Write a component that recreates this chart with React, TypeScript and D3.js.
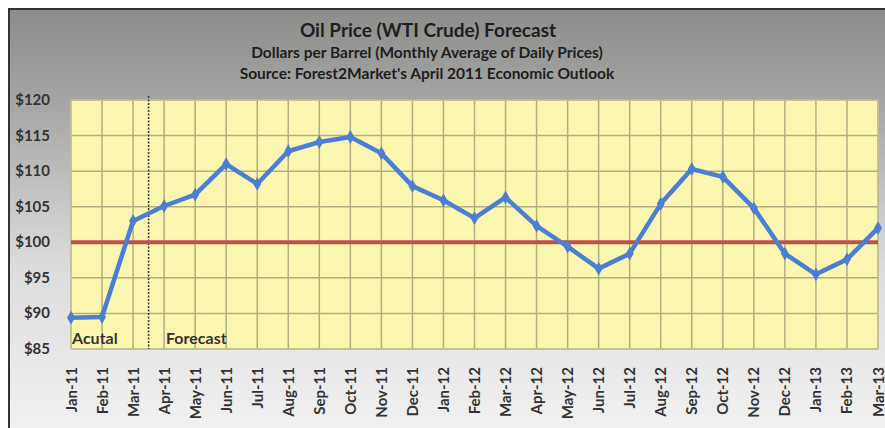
import React from "react";
import * as d3 from "d3";

const months = ["Jan-11","Feb-11","Mar-11","Apr-11","May-11","Jun-11","Jul-11","Aug-11","Sep-11","Oct-11","Nov-11","Dec-11","Jan-12","Feb-12","Mar-12","Apr-12","May-12","Jun-12","Jul-12","Aug-12","Sep-12","Oct-12","Nov-12","Dec-12","Jan-13","Feb-13","Mar-13"];
const prices = [89.4,89.5,103.0,105.1,106.7,111.0,108.2,112.8,114.1,114.8,112.5,107.9,105.9,103.4,106.3,102.3,99.4,96.3,98.4,105.4,110.3,109.2,104.8,98.4,95.5,97.6,102.0];
const yTicks = [85,90,95,100,105,110,115,120];
const referencePrice = 100;
const forecastStart = 2.5; // between Mar-11 and Apr-11
const titleLines = ["Oil Price (WTI Crude) Forecast","Dollars per Barrel (Monthly Average of Daily Prices)","Source: Forest2Market's April 2011 Economic Outlook"];

const W = 885, H = 428;
const L = 71, R = 878, T = 100, B = 349;
const font = "Lato, 'Open Sans', sans-serif";

export default function App() {
  const x = d3.scaleLinear().domain([0, months.length - 1]).range([L, R]);
  const y = d3.scaleLinear().domain([85, 120]).range([B, T]);
  const line = d3.line<number>().x((_, i) => x(i)).y(d => y(d));
  const diamond = d3.symbol().type(d3.symbolDiamond).size(55)();
  return (
    <svg width={W} height={H} style={{ position: "absolute", left: 0, top: 0 }}>
      <defs>
        <linearGradient id="bg" x1="0" y1="0" x2="0" y2="1">
          <stop offset="0" stopColor="#8c8d8b" />
          <stop offset="0.25" stopColor="#a9aaa8" />
          <stop offset="0.6" stopColor="#dcdcdc" />
          <stop offset="1" stopColor="#f2f2f2" />
        </linearGradient>
      </defs>
      <rect x={0} y={0} width={W} height={H} fill="#ffffff" />
      <rect x={9} y={9} width={W} height={H} fill="url(#bg)" stroke="#333" strokeWidth={2} />
      <text x={428} y={37} textAnchor="middle" fontFamily={font} fontWeight={700} fontSize={19} fill="#1e1e1e">{titleLines[0]}</text>
      <text x={427} y={58} textAnchor="middle" fontFamily={font} fontWeight={700} fontSize={15.5} fill="#1e1e1e">{titleLines[1]}</text>
      <text x={427} y={79} textAnchor="middle" fontFamily={font} fontWeight={700} fontSize={15.5} fill="#1e1e1e">{titleLines[2]}</text>
      <rect x={L} y={T} width={R - L} height={B - T} fill="#fbf7b1" />
      {months.map((m, i) => (
        <line key={"v" + i} x1={x(i)} x2={x(i)} y1={T} y2={B} stroke="#b3ae80" strokeWidth={1.5} />
      ))}
      {yTicks.map(t => (
        <line key={"h" + t} x1={L} x2={R} y1={y(t)} y2={y(t)} stroke="#b3ae80" strokeWidth={1.5} />
      ))}
      <rect x={L} y={T} width={R - L} height={B - T} fill="none" stroke="#c8c5a0" strokeWidth={1} />
      <line x1={x(forecastStart)} x2={x(forecastStart)} y1={T - 4} y2={B} stroke="#333" strokeWidth={1.5} strokeDasharray="2,1.5" />
      <line x1={L} x2={R} y1={y(referencePrice)} y2={y(referencePrice)} stroke="#c0504d" strokeWidth={4} />
      <path d={line(prices) || ""} fill="none" stroke="#4a7fd3" strokeWidth={4.5} strokeLinejoin="round" />
      {prices.map((p, i) => (
        <path key={"m" + i} d={diamond} transform={`translate(${x(i)},${y(p)})`} fill="#4a7fd3" />
      ))}
      {yTicks.map(t => (
        <text key={"yt" + t} x={50} y={y(t) + 5} textAnchor="end" fontFamily={font} fontWeight={700} fontSize={15} fill="#333">${t}</text>
      ))}
      {months.map((m, i) => (
        <text key={"xt" + i} transform={`translate(${x(i) + 5.5},367) rotate(-90)`} textAnchor="end" fontFamily={font} fontWeight={700} fontSize={15} fill="#333">{m}</text>
      ))}
      <text x={72} y={344} fontFamily={font} fontWeight={700} fontSize={16} fill="#333">Acutal</text>
      <text x={166} y={344} fontFamily={font} fontWeight={700} fontSize={16} fill="#333">Forecast</text>
    </svg>
  );
}
